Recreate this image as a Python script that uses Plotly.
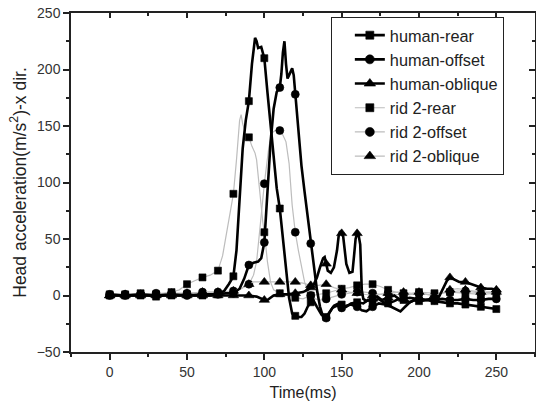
import plotly.graph_objects as go

# ---------------- data ----------------
human_rear_t = [0,5,10,15,20,25,30,35,40,45,50,55,60,65,70,74,77,80,82,84,86,88,90,92,94,95,96,98,100,102,104,106,108,110,112,114,116,118,120,122,124,126,128,130,132,134,137,140,142,145,148,150,153,156,160,164,167,170,174,177,180,184,187,190,194,197,200,205,210,215,220,225,230,235,240,245,250]
human_rear_v = [0,0,0,0,0,0,-1,0,0,0,1,0,0,0,1,4,10,17,40,90,130,155,172,205,228,225,219,220,210,180,150,120,95,77,50,20,-2,-16,-18,-19,-19,-16,-10,-6,-5,-10,-17,-19,-15,-9,-7,-8,-10,-7,-6,-7,-4,-5,-3,-6,-7,-5,-3,-4,-6,-4,-5,-4,-5,-6,-7,-7,-8,-9,-10,-11,-12]

human_offset_t = [0,10,20,30,40,50,60,70,75,80,84,87,90,93,96,98,100,102,104,106,108,110,111,112,113,114,115,116,117,118,119,120,122,124,126,128,130,132,134,136,138,140,142,144,147,150,153,156,160,163,166,170,174,178,182,185,188,191,194,197,200,205,210,215,220,225,230,235,240,245,250]
human_offset_v = [1,0,1,0,1,0,1,1,2,2,6,15,27,29,30,33,47,90,135,165,180,184,196,215,225,205,192,195,198,201,195,178,145,115,92,70,46,22,5,-10,-19,-20,-16,-11,-9,-11,-9,-8,-10,-13,-14,-10,-7,-8,-10,-12,-14,-10,-6,-4,-3,-4,-4,-3,-4,-4,-3,-4,-4,-3,-3]

human_oblique_t = [0,10,20,30,40,50,60,70,80,90,95,98,100,102,104,106,110,115,120,125,128,130,132,134,136,138,139,140,141,143,145,147,148,149,150,151,152,153,155,157,158,159,160,161,162,163,164,166,170,173,176,180,184,188,190,194,198,200,204,208,210,213,216,218,220,223,226,230,234,238,240,244,247,250]
human_oblique_v = [0,0,0,0,0,0,0,0,0,0,-1,-3,-4,-4,-2,0,1,1,2,3,5,7,10,16,25,33,34,28,22,20,25,40,52,57,55,52,40,28,20,21,35,50,55,53,45,5,-3,-5,-3,-1,-4,-2,0,-4,-3,-2,-3,-3,-4,-3,-3,-1,8,13,16,14,12,12,10,8,7,6,6,5]

rid2_rear_t = [0,10,20,30,35,40,45,50,55,60,65,70,73,76,78,80,82,84,85,86,88,90,92,94,95,97,99,100,102,104,106,110,115,120,125,130,135,140,145,150,155,160,165,170,175,180,185,190,195,200,210,220,230,240,250]
rid2_rear_v = [1,1,2,1,2,3,5,10,13,16,18,22,35,60,75,90,120,155,160,152,143,140,132,126,120,90,65,56,30,12,5,2,0,-2,-3,0,1,2,4,6,7,9,10,10,8,5,3,2,1,3,2,3,2,1,2]

rid2_offset_t = [0,10,20,30,40,50,60,70,80,85,90,93,95,97,99,100,101,103,105,107,110,112,114,116,118,120,122,124,126,128,130,133,136,140,145,150,155,160,165,170,175,180,185,190,195,200,205,210,215,220,225,230,235,240,245,250]
rid2_offset_v = [0,1,1,2,2,2,3,3,4,6,10,18,30,55,85,99,111,132,144,146,146,142,136,117,80,56,40,25,12,4,0,-3,-4,-3,-1,1,2,3,3,2,1,2,1,0,1,2,1,0,2,3,4,4,3,2,3,3]

rid2_oblique_t = [0,10,20,30,40,50,60,70,80,85,90,93,95,100,105,110,115,120,125,130,135,140,145,150,155,160,165,170,175,180,185,190,195,200,205,210,215,220,225,230,235,240,245,250]
rid2_oblique_v = [0,1,1,1,2,2,3,3,4,6,10,12,12,12,12,12,12,12,11,9,9,10,7,5,3,2,1,0,1,2,3,3,2,3,1,0,2,5,6,5,4,3,3,3]

series = [
    ("human-rear", human_rear_t, human_rear_v, "square", 7, "black", 2.6),
    ("human-offset", human_offset_t, human_offset_v, "circle", 8, "black", 2.6),
    ("human-oblique", human_oblique_t, human_oblique_v, "triangle-up", 9, "black", 2.6),
    ("rid 2-rear", rid2_rear_t, rid2_rear_v, "square", 7, "#bdbdbd", 1.2),
    ("rid 2-offset", rid2_offset_t, rid2_offset_v, "circle", 8, "#bdbdbd", 1.2),
    ("rid 2-oblique", rid2_oblique_t, rid2_oblique_v, "triangle-up", 9, "#bdbdbd", 1.2),
]

fig = go.Figure()

# data traces: gray (rid 2) first, black (human) on top
for name, t, v, sym, ms, col, lw in series[3:] + series[:3]:
    sizes = [ms if (tt % 10 == 0) else 0 for tt in t]
    fig.add_trace(go.Scatter(
        x=t, y=v, mode="lines+markers", name=name, showlegend=False,
        line=dict(color=col, width=lw),
        marker=dict(symbol=sym, size=sizes, color="#000000", opacity=1,
                    line=dict(width=0.6, color="#000000")),
    ))

# legend entries
for name, t, v, sym, ms, col, lw in series:
    fig.add_trace(go.Scatter(
        x=[None], y=[None], mode="lines+markers", name=name,
        line=dict(color=col, width=lw),
        marker=dict(symbol=sym, size=ms + 1, color="#000000", opacity=1,
                    line=dict(width=0.6, color="#000000")),
    ))

# invisible trace for the mirrored (top/right) axes with inward ticks
fig.add_trace(go.Scatter(x=[None], y=[None], xaxis="x2", yaxis="y2",
                         showlegend=False, hoverinfo="skip"))

axis_col = "#222222"
tick_font = dict(family="Liberation Sans, Arial, sans-serif", size=14, color="#333333")

fig.update_layout(
    width=536, height=407,
    margin=dict(l=71, r=1, t=13, b=55),
    paper_bgcolor="white", plot_bgcolor="white",
    font=dict(family="Liberation Sans, Arial, sans-serif", color="#333333"),
    xaxis=dict(
        range=[-25, 275], tickvals=[0, 50, 100, 150, 200, 250],
        ticks="outside", ticklen=6, tickwidth=1.5, tickcolor=axis_col,
        minor=dict(dtick=25, tick0=0, ticks="outside", ticklen=3, tickwidth=1.5, tickcolor=axis_col),
        showline=True, linecolor=axis_col, linewidth=1.5,
        showgrid=False, zeroline=False, tickfont=tick_font,
        title=dict(text="Time(ms)", font=dict(size=16, color="#222222"), standoff=8),
    ),
    yaxis=dict(
        range=[-50, 250], tickvals=[-50, 0, 50, 100, 150, 200, 250],
        ticks="outside", ticklen=6, tickwidth=1.5, tickcolor=axis_col,
        minor=dict(dtick=25, tick0=0, ticks="outside", ticklen=3, tickwidth=1.5, tickcolor=axis_col),
        showline=True, linecolor=axis_col, linewidth=1.5,
        showgrid=False, zeroline=False, tickfont=tick_font,
        title=dict(text="Head acceleration(m/s<sup>2</sup>)-x dir.", font=dict(size=17.5, color="#222222"), standoff=6),
    ),
    xaxis2=dict(
        overlaying="x", side="top", range=[-25, 275], tickvals=[0, 50, 100, 150, 200, 250],
        ticks="inside", ticklen=5, tickwidth=1.5, tickcolor=axis_col,
        minor=dict(dtick=25, tick0=0, ticks="inside", ticklen=3, tickwidth=1.5, tickcolor=axis_col),
        showline=True, linecolor=axis_col, linewidth=1.5,
        showticklabels=False, showgrid=False, zeroline=False,
    ),
    yaxis2=dict(
        overlaying="y", side="right", range=[-50, 250], tickvals=[-50, 0, 50, 100, 150, 200, 250],
        ticks="inside", ticklen=6, tickwidth=1.5, tickcolor=axis_col,
        minor=dict(dtick=25, tick0=0, ticks="inside", ticklen=3, tickwidth=1.5, tickcolor=axis_col),
        showline=True, linecolor=axis_col, linewidth=1.5,
        showticklabels=False, showgrid=False, zeroline=False,
    ),
    legend=dict(
        x=0.56, y=0.988, xanchor="left", yanchor="top",
        bgcolor="white", bordercolor="#222222", borderwidth=1,
        font=dict(size=16.3, color="#222222"), indentation=18,
        tracegroupgap=0,
    ),
    showlegend=True,
)

fig.write_html("out.html")
